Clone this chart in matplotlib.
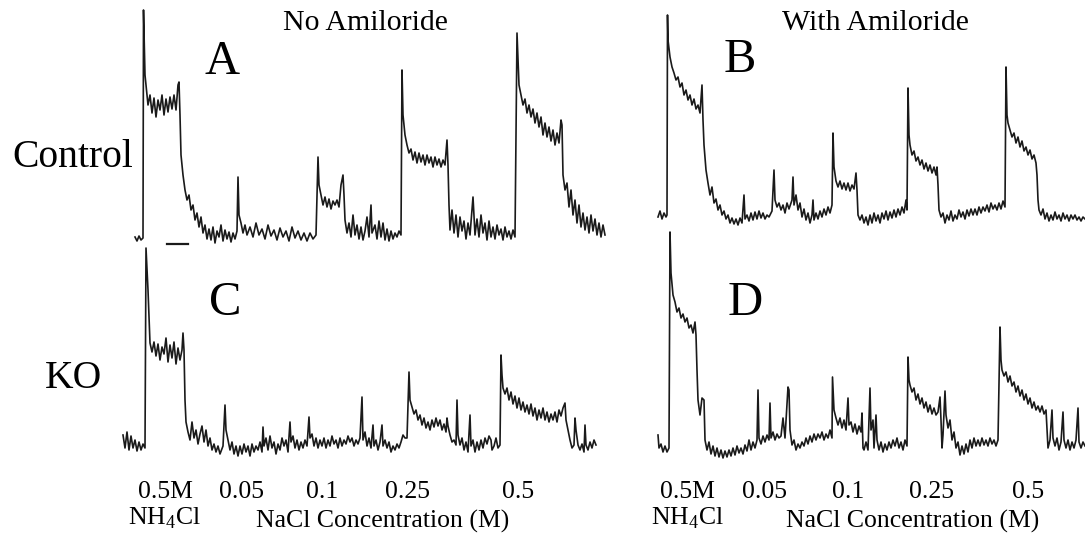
import matplotlib.pyplot as plt

plt.rcParams['font.family'] = ['Liberation Serif', 'DejaVu Serif']
plt.rcParams['mathtext.fontset'] = 'custom'
plt.rcParams['mathtext.rm'] = 'Liberation Serif'

# Panel A: control, no amiloride (time, response)
t_A = [15, 17, 19, 21, 23, 23.5, 25, 26, 28, 30, 32, 34, 36, 38, 40, 42, 44, 46, 48, 50, 52, 54, 56, 58, 59,
       60, 61, 63, 65, 67, 69, 71, 73, 75, 77, 79, 81, 83, 85, 87, 89, 91, 93, 95, 97, 99, 101, 103, 105, 107,
       109, 111, 113, 115, 117, 118, 119, 121, 123, 125, 127, 130, 133, 136, 139, 142, 145, 148, 151, 154, 157,
       160, 163, 166, 169, 172, 175, 178, 181, 184, 187, 190, 193, 196, 198, 199, 201, 203, 205, 207, 209, 211,
       213, 215, 217, 219, 221, 223, 224, 225, 227, 229, 231, 233, 235, 237, 239, 241, 243, 245, 247, 249, 251,
       252, 255, 257, 259, 261, 263, 265, 267, 269, 271, 273, 275, 277, 279, 281, 282, 283, 285, 287, 289, 291,
       293, 295, 297, 299, 301, 303, 305, 307, 309, 311, 313, 315, 317, 319, 321, 323, 325, 327, 328, 329, 330,
       332, 334, 336, 338, 340, 342, 344, 346, 348, 350, 353, 355, 357, 359, 361, 363, 365, 367, 369, 371, 373,
       375, 377, 379, 381, 383, 385, 387, 389, 391, 393, 395, 397, 399, 401, 403, 405, 407, 409, 411, 413, 415,
       417, 419, 421, 423, 425, 427, 429, 431, 433, 435, 437, 439, 441, 442, 443, 445, 447, 449, 451, 453, 455,
       457, 459, 461, 463, 465, 467, 469, 471, 473, 475, 477, 479, 481, 483, 485]
r_A = [8, 4, 9, 5, 7, 235, 170, 160, 140, 150, 132, 147, 128, 145, 135, 150, 130, 146, 133, 148, 136, 150, 135, 160, 163,
       130, 90, 70, 55, 45, 50, 35, 40, 25, 32, 18, 28, 12, 20, 6, 16, 5, 18, 2, 14, 8, 20, 4, 15, 6,
       13, 3, 12, 6, 14, 68, 30, 22, 12, 20, 10, 18, 8, 22, 10, 16, 6, 20, 9, 15, 5,
       17, 8, 14, 4, 18, 7, 14, 5, 12, 4, 12, 6, 10, 88, 60, 50, 40, 48, 38, 46, 36,
       44, 40, 45, 38, 60, 70, 50, 25, 12, 22, 8, 30, 10, 20, 6, 18, 5, 14, 28, 8, 40,
       12, 20, 6, 24, 8, 22, 5, 16, 4, 14, 6, 12, 8, 14, 10, 175, 130, 110, 100, 92, 96,
       85, 93, 82, 92, 83, 90, 80, 90, 82, 88, 78, 88, 80, 86, 78, 85, 80, 105, 80, 40, 15,
       35, 12, 30, 8, 28, 14, 24, 6, 22, 10, 48, 10, 26, 8, 30, 12, 22, 5, 24, 8, 18,
       6, 20, 10, 16, 5, 18, 8, 14, 6, 15, 8, 212, 160, 150, 140, 146, 132, 140, 128, 136, 122,
       132, 118, 128, 110, 122, 108, 118, 104, 115, 100, 112, 102, 125, 120, 70, 55, 62, 38, 55, 30, 45,
       22, 40, 18, 32, 15, 28, 12, 30, 14, 26, 10, 22, 8, 20, 10]

# Panel B: control, with amiloride
t_B = [18, 20, 22, 24, 26, 27, 27.5, 28, 30, 32, 34, 36, 38, 40, 42, 44, 46, 48, 50, 52, 54, 56, 58, 60, 62, 63,
       64, 66, 68, 70, 72, 74, 76, 78, 80, 82, 84, 86, 88, 90, 92, 94, 96, 98, 100, 102, 104, 105, 107, 109, 111,
       113, 115, 117, 119, 121, 123, 125, 127, 129, 132, 134, 135, 137, 139, 141, 143, 145, 147, 149, 152, 153,
       154, 156, 158, 160, 162, 164, 166, 168, 170, 172, 173, 174, 176, 178, 180, 182, 184, 186, 188, 190, 192,
       193, 194, 196, 198, 200, 202, 204, 206, 208, 210, 212, 214, 216, 217, 218, 220, 222, 224, 226, 228, 230,
       232, 234, 236, 238, 240, 242, 244, 246, 248, 250, 252, 254, 256, 258, 260, 262, 264, 266, 267, 268, 269,
       270, 272, 274, 276, 278, 280, 282, 284, 286, 288, 290, 292, 294, 296, 297, 298, 299, 301, 303, 305, 307,
       309, 311, 313, 315, 317, 319, 321, 323, 325, 327, 329, 331, 333, 335, 337, 339, 341, 343, 345, 347, 349,
       351, 353, 355, 357, 359, 361, 363, 365, 366, 367, 368, 370, 372, 374, 376, 378, 380, 382, 384, 386, 388,
       390, 392, 394, 396, 397, 398, 399, 401, 403, 405, 407, 409, 411, 413, 415, 417, 419, 421, 423, 425, 427,
       429, 431, 433, 435, 437, 439, 441, 443, 445]
r_B = [28, 34, 26, 32, 28, 30, 230, 205, 188, 178, 172, 165, 168, 158, 162, 150, 155, 145, 150, 140, 146, 136, 140, 132, 160, 125,
       100, 75, 62, 50, 58, 42, 46, 35, 40, 30, 34, 26, 30, 22, 27, 21, 26, 20, 27, 22, 50, 26, 30, 24, 32,
       25, 33, 26, 34, 27, 32, 26, 30, 28, 34, 75, 45, 38, 42, 35, 40, 32, 42, 36, 45, 68,
       40, 50, 35, 42, 28, 36, 25, 32, 22, 30, 45, 25, 32, 26, 34, 28, 36, 30, 38, 32, 40,
       112, 78, 64, 58, 64, 56, 62, 55, 62, 54, 60, 56, 72, 55, 30, 25, 30, 22, 28, 20, 30,
       22, 32, 24, 30, 22, 32, 26, 34, 25, 33, 27, 35, 28, 36, 30, 38, 32, 45, 35, 157, 110,
       100, 90, 94, 84, 88, 80, 85, 76, 82, 74, 80, 72, 78, 70, 78, 60, 35, 28, 32, 22, 30,
       25, 34, 24, 30, 26, 35, 28, 33, 26, 35, 29, 36, 30, 36, 30, 38, 32, 38, 34, 40, 33,
       42, 36, 40, 35, 42, 36, 44, 38, 178, 130, 122, 115, 108, 112, 102, 108, 98, 104, 94, 98, 90,
       95, 86, 90, 82, 70, 45, 35, 30, 36, 26, 32, 24, 30, 25, 33, 26, 30, 24, 32, 26, 30,
       24, 30, 26, 30, 25, 28, 24, 28, 26]

# Panel C: KO, no amiloride
t_C = [3, 5, 7, 9, 11, 13, 15, 17, 19, 21, 23, 25, 26, 28, 30, 32, 34, 36, 38, 40, 42, 44, 46, 48, 50, 52, 54,
       56, 58, 60, 62, 63, 64, 65, 66, 68, 70, 72, 74, 76, 78, 80, 82, 84, 86, 88, 90, 92, 94, 96, 98, 100, 103,
       105, 106, 108, 110, 112, 114, 116, 118, 120, 122, 124, 126, 128, 130, 132, 134, 136, 138, 140, 142, 143,
       144, 146, 148, 150, 152, 154, 156, 158, 160, 162, 164, 166, 168, 170, 171, 173, 175, 177, 179, 181, 183,
       185, 187, 189, 190, 192, 194, 196, 198, 200, 202, 204, 206, 208, 210, 212, 214, 216, 218, 220, 222, 224,
       226, 228, 230, 232, 234, 236, 238, 240, 242, 243, 245, 247, 249, 251, 253, 254, 256, 258, 260, 262, 263,
       265, 267, 269, 271, 273, 275, 277, 279, 281, 283, 285, 287, 289, 290, 292, 294, 296, 298, 300, 302, 304,
       306, 308, 310, 312, 314, 316, 318, 320, 322, 324, 326, 327, 328, 330, 332, 334, 336, 337, 338, 340, 342,
       344, 346, 348, 350, 351, 353, 355, 357, 359, 361, 363, 365, 367, 369, 371, 372, 374, 376, 378, 380, 381,
       382, 383, 385, 387, 389, 391, 393, 395, 397, 399, 401, 403, 405, 407, 409, 411, 413, 415, 417, 419, 421,
       423, 425, 427, 429, 431, 433, 435, 437, 439, 441, 443, 445, 446, 448, 450, 452, 454, 455, 456, 458, 460,
       462, 464, 465, 466, 468, 470, 472, 474, 476]
r_C = [25, 12, 28, 10, 24, 12, 20, 9, 18, 10, 16, 12, 212, 170, 117, 108, 118, 104, 116, 100, 113, 106, 122, 98, 115, 102, 118,
       96, 112, 100, 110, 127, 110, 60, 38, 28, 20, 38, 22, 30, 16, 26, 34, 18, 30, 14, 22, 10, 16, 8, 14, 6, 14,
       55, 30, 20, 10, 18, 6, 14, 4, 14, 6, 16, 8, 14, 4, 16, 8, 14, 10, 18, 8, 33,
       14, 22, 10, 24, 12, 18, 6, 16, 10, 22, 14, 20, 8, 38, 18, 24, 12, 20, 10, 18, 12,
       20, 14, 43, 22, 26, 14, 22, 12, 20, 14, 22, 12, 20, 14, 24, 16, 20, 12, 22, 14, 20,
       16, 24, 18, 22, 14, 20, 16, 22, 63, 20, 28, 14, 22, 12, 35, 14, 20, 10, 18, 35,
       14, 20, 12, 18, 8, 14, 10, 16, 12, 18, 25, 22, 22, 88, 60, 53, 46, 50, 40, 45, 35, 42,
       32, 38, 30, 40, 33, 42, 34, 40, 30, 36, 28, 42, 34, 25, 18, 20, 15, 60, 25, 15, 22,
       10, 18, 8, 45, 14, 20, 8, 18, 10, 20, 12, 22, 16, 24, 20, 10, 14, 22, 12, 15, 105,
       85, 72, 66, 72, 60, 68, 56, 64, 52, 62, 50, 58, 48, 55, 46, 56, 44, 52, 40, 50, 42,
       52, 40, 48, 38, 46, 40, 48, 38, 50, 44, 52, 57, 40, 30, 20, 12, 15, 42, 30, 15, 10,
       16, 8, 35, 15, 10, 18, 12, 20, 15]

# Panel D: KO, with amiloride
t_D = [18, 19, 21, 23, 25, 27, 29, 30, 31, 33, 35, 37, 39, 41, 43, 45, 47, 49, 51, 53, 55, 56, 57, 58, 60, 62, 64,
       65, 67, 69, 71, 73, 75, 77, 79, 81, 83, 85, 87, 89, 91, 93, 95, 97, 99, 101, 103, 105, 107, 109, 111, 113,
       115, 117, 118, 119, 121, 123, 125, 127, 129, 130, 131, 133, 135, 137, 139, 141, 143, 145, 148, 149, 150,
       152, 154, 156, 158, 160, 162, 164, 166, 168, 170, 172, 174, 176, 178, 180, 182, 184, 186, 188, 190, 192,
       192.5, 194, 196, 198, 200, 202, 204, 206, 208, 209, 211, 213, 215, 217, 219, 221, 222, 223, 224, 226, 228,
       230, 231, 233, 234, 236, 237, 239, 241, 243, 245, 247, 249, 251, 253, 255, 257, 259, 261, 263, 265, 267,
       268, 269, 270, 272, 274, 276, 278, 280, 282, 284, 286, 288, 290, 292, 294, 296, 298, 300, 301, 302, 303,
       305, 306, 308, 310, 312, 314, 316, 318, 320, 322, 324, 326, 328, 330, 332, 334, 336, 338, 340, 342, 344,
       346, 348, 350, 352, 354, 356, 358, 360, 361, 362, 364, 366, 368, 370, 372, 374, 376, 378, 380, 382, 384,
       386, 388, 390, 392, 394, 396, 398, 400, 402, 404, 406, 407, 408, 410, 412, 413, 415, 417, 419, 421, 423,
       424, 426, 428, 430, 432, 434, 436, 438, 439, 441, 443, 445]
r_D = [25, 12, 16, 8, 14, 8, 12, 228, 187, 165, 158, 148, 152, 142, 146, 138, 142, 132, 135, 127, 138, 125, 90, 60, 45, 62, 60,
       20, 10, 18, 6, 14, 4, 12, 3, 10, 2, 9, 3, 10, 4, 12, 5, 14, 7, 12, 6, 15, 9, 20, 10, 18,
       12, 20, 70, 22, 16, 24, 18, 25, 20, 57, 22, 28, 20, 26, 22, 24, 42, 22, 73, 70, 30,
       15, 20, 10, 16, 12, 18, 14, 22, 16, 24, 18, 26, 20, 26, 22, 28, 20, 26, 22, 30, 22,
       83, 50, 42, 35, 42, 32, 40, 30, 62, 35, 38, 28, 36, 26, 34, 28, 47, 12, 10, 18, 10,
       72, 30, 40, 12, 45, 20, 10, 18, 8, 16, 10, 18, 12, 20, 14, 22, 12, 18, 10, 20, 14,
       103, 80, 75, 68, 72, 60, 66, 56, 62, 52, 58, 48, 55, 46, 52, 45, 48, 63, 40, 12, 25,
       69, 45, 32, 40, 20, 28, 12, 18, 5, 14, 6, 16, 8, 20, 12, 22, 14, 20, 14, 22, 15,
       20, 14, 22, 16, 20, 14, 20, 133, 100, 90, 84, 88, 78, 84, 74, 78, 68, 74, 64, 70, 60,
       66, 56, 62, 52, 58, 50, 54, 48, 54, 46, 50, 30, 12, 20, 50, 22, 14, 22, 10, 18, 48,
       20, 12, 20, 10, 18, 12, 20, 52, 18, 12, 18, 14]

# scale bar under panel A
bar_t = [47, 68]
bar_r = [1, 1]

W, H = 1085, 539
fig = plt.figure(figsize=(W / 100, H / 100), dpi=100)


def panel(x0, x1, y0, y1, t, r, ymax):
    ax = fig.add_axes([x0 / W, 1 - y1 / H, (x1 - x0) / W, (y1 - y0) / H])
    ax.plot(t, r, color='#1a1a1a', lw=1.2, clip_on=False)
    ax.set_xlim(0, x1 - x0)
    ax.set_ylim(0, ymax)
    ax.axis('off')
    return ax


axA = panel(120, 620, 0, 245, t_A, r_A, 245)
axA.plot(bar_t, bar_r, color='#1a1a1a', lw=1.6, clip_on=False)
panel(640, 1085, 0, 245, t_B, r_B, 245)
panel(120, 620, 230, 460, t_C, r_C, 230)
panel(640, 1085, 230, 460, t_D, r_D, 230)


def label(x, y, s, size, **kw):
    fig.text(x / W, 1 - y / H, s, fontsize=size, ha='center', va='center', **kw)


label(365, 23, 'No Amiloride', 21.5)
label(875, 23, 'With Amiloride', 21.5)
label(222, 62, 'A', 35)
label(740, 60, 'B', 35)
label(225, 303, 'C', 35)
label(745, 303, 'D', 35)
label(73, 157, 'Control', 28.5)
label(73, 378, 'KO', 28.5)

conc = ['0.5M', '0.05', '0.1', '0.25', '0.5']
left_x = [165, 242, 322, 408, 518]
right_x = [687, 765, 848, 932, 1028]
for xs in (left_x, right_x):
    for xx, c in zip(xs, conc):
        label(xx, 492, c, 18.5)

label(165, 518, r'NH$_\mathrm{4}$Cl', 18.5)
label(688, 518, r'NH$_\mathrm{4}$Cl', 18.5)
label(383, 521, 'NaCl Concentration (M)', 18.5)
label(913, 521, 'NaCl Concentration (M)', 18.5)

fig.savefig('out.png', dpi=100)
